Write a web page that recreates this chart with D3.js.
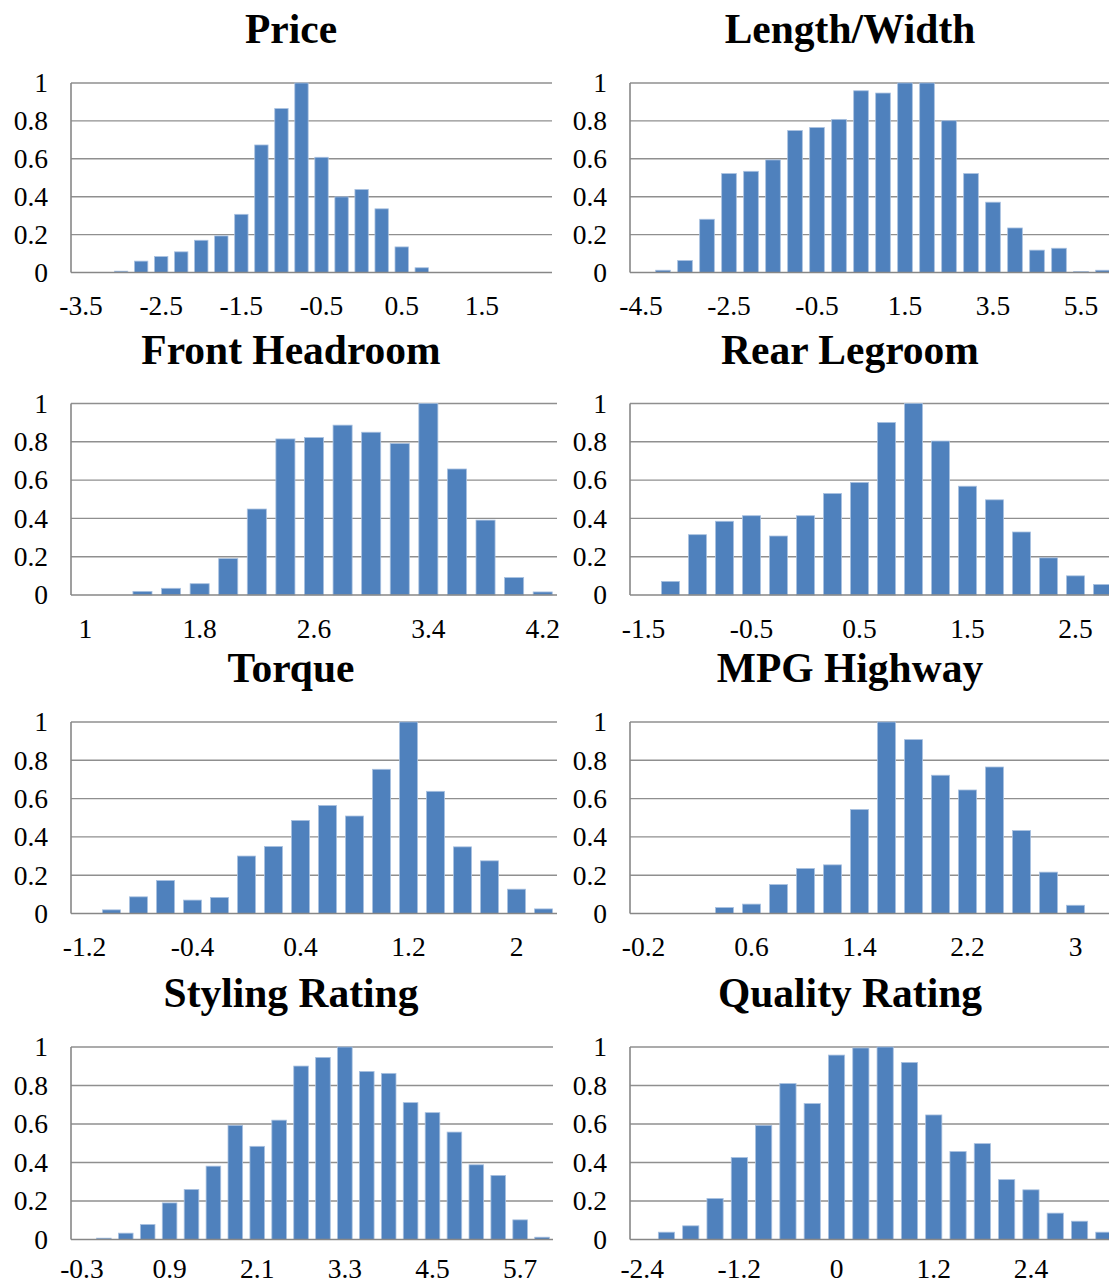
<!DOCTYPE html>
<html>
<head>
<meta charset="utf-8">
<script src="https://cdnjs.cloudflare.com/ajax/libs/d3/7.8.5/d3.min.js"></script>
<style>
  html, body { margin: 0; padding: 0; background: #fff; }
  svg { display: block; }
  text { font-family: "Liberation Serif", "Times New Roman", serif; fill: #000; }
</style>
</head>
<body>
<svg id="chart" width="1109" height="1285"></svg>
<script>
// Normalised histograms of eight vehicle attributes (peak bin = 1)

const titles = ["Price", "Length/Width", "Front Headroom", "Rear Legroom",
                "Torque", "MPG Highway", "Styling Rating", "Quality Rating"];

// Bin labels for each attribute
const priceBins = ["-3.5","-3.25","-3","-2.75","-2.5","-2.25","-2","-1.75","-1.5","-1.25","-1","-0.75",
                   "-0.5","-0.25","0","0.25","0.5","0.75","1","1.25","1.5","1.75","2","2.25"];
const lengthBins = ["-4.5","-4","-3.5","-3","-2.5","-2","-1.5","-1","-0.5","0","0.5","1",
                    "1.5","2","2.5","3","3.5","4","4.5","5","5.5","6"];
const headroomBins = ["1","1.2","1.4","1.6","1.8","2","2.2","2.4","2.6","2.8","3","3.2",
                      "3.4","3.6","3.8","4","4.2"];
const legroomBins = ["-1.5","-1.25","-1","-0.75","-0.5","-0.25","0","0.25","0.5","0.75","1","1.25",
                     "1.5","1.75","2","2.25","2.5","2.75"];
const torqueBins = ["-1.2","-1","-0.8","-0.6","-0.4","-0.2","0","0.2","0.4","0.6","0.8","1",
                    "1.2","1.4","1.6","1.8","2","2.2"];
const mpgBins = ["-0.2","0","0.2","0.4","0.6","0.8","1","1.2","1.4","1.6","1.8","2",
                 "2.2","2.4","2.6","2.8","3","3.2"];
const stylingBins = ["-0.3","0","0.3","0.6","0.9","1.2","1.5","1.8","2.1","2.4","2.7","3",
                     "3.3","3.6","3.9","4.2","4.5","4.8","5.1","5.4","5.7","6"];
const qualityBins = ["-2.4","-2.1","-1.8","-1.5","-1.2","-0.9","-0.6","-0.3","0","0.3","0.6","0.9",
                     "1.2","1.5","1.8","2.1","2.4","2.7","3","3.3"];

// Relative frequency per bin
const priceValues = [0,0,0.007,0.06,0.084,0.109,0.17,0.193,0.307,0.673,0.865,1,
                     0.608,0.399,0.438,0.336,0.135,0.025,0,0,0,0,0,0];
const lengthValues = [0,0.012,0.063,0.281,0.522,0.534,0.594,0.749,0.765,0.808,0.959,0.947,
                      1,1,0.801,0.522,0.371,0.235,0.118,0.128,0.005,0.012];
const headroomValues = [0,0,0.019,0.035,0.059,0.19,0.449,0.815,0.822,0.887,0.85,0.791,
                        1,0.658,0.391,0.091,0.016];
const legroomValues = [0,0.071,0.315,0.385,0.414,0.308,0.414,0.53,0.588,0.901,1,0.804,
                       0.568,0.497,0.329,0.194,0.1,0.055];
const torqueValues = [0,0.019,0.087,0.172,0.07,0.084,0.3,0.35,0.486,0.564,0.509,0.753,
                      1,0.638,0.348,0.275,0.127,0.024];
const mpgValues = [0,0,0,0.031,0.049,0.151,0.235,0.254,0.543,1,0.908,0.722,
                   0.645,0.765,0.433,0.216,0.043,0];
const stylingValues = [0,0.007,0.033,0.078,0.19,0.26,0.381,0.593,0.484,0.62,0.901,0.946,
                       1,0.873,0.863,0.711,0.659,0.558,0.388,0.333,0.102,0.012];
const qualityValues = [0,0.038,0.071,0.213,0.426,0.593,0.81,0.706,0.958,0.995,1,0.92,
                       0.647,0.457,0.498,0.311,0.258,0.137,0.095,0.038];

// Labelled bins on each category axis
const priceTicks = ["-3.5","-2.5","-1.5","-0.5","0.5","1.5"];
const lengthTicks = ["-4.5","-2.5","-0.5","1.5","3.5","5.5"];
const headroomTicks = ["1","1.8","2.6","3.4","4.2"];
const legroomTicks = ["-1.5","-0.5","0.5","1.5","2.5"];
const torqueTicks = ["-1.2","-0.4","0.4","1.2","2"];
const mpgTicks = ["-0.2","0.6","1.4","2.2","3"];
const stylingTicks = ["-0.3","0.9","2.1","3.3","4.5","5.7"];
const qualityTicks = ["-2.4","-1.2","0","1.2","2.4"];

const yTicks = [0, 0.2, 0.4, 0.6, 0.8, 1];

const bins = [priceBins, lengthBins, headroomBins, legroomBins, torqueBins, mpgBins, stylingBins, qualityBins];
const values = [priceValues, lengthValues, headroomValues, legroomValues, torqueValues, mpgValues, stylingValues, qualityValues];
const ticks = [priceTicks, lengthTicks, headroomTicks, legroomTicks, torqueTicks, mpgTicks, stylingTicks, qualityTicks];

// Layout of the 4x2 grid
const colLeft = [71, 630];
const rowTop = [83, 403.5, 722, 1047];
const rowHeight = [189.5, 191.5, 191.5, 192.5];
const xLabelPad = [23, 23, 23, 19];
const plotWidth = [481, 484, 486, 486, 486, 486, 482, 486];
const titleCenter = [291, 850];

const BAR = "#4F81BD";
const GRID = "#8f8f8f";
const AXIS = "#878787";
const FONT = "'Liberation Serif', 'Times New Roman', serif";

const svg = d3.select("#chart");

titles.forEach((title, k) => {
  const col = k % 2, row = Math.floor(k / 2);
  const left = colLeft[col], top = rowTop[row], h = rowHeight[row], w = plotWidth[k];

  const data = bins[k].map((b, i) => ({ bin: b, value: values[k][i] }));

  const x = d3.scaleBand()
    .domain(bins[k])
    .range([0, w])
    .paddingInner(1 / 3)
    .paddingOuter(1 / 6);
  const y = d3.scaleLinear().domain([0, 1]).range([h, 0]);

  const g = svg.append("g").attr("transform", `translate(${left},${top})`);

  // title
  svg.append("text")
    .attr("x", titleCenter[col])
    .attr("y", top - 40)
    .attr("text-anchor", "middle")
    .style("font-size", "41.5px")
    .style("font-weight", "bold")
    .text(title);

  // horizontal gridlines
  g.append("g")
    .selectAll("line")
    .data(yTicks.filter(d => d > 0))
    .join("line")
    .attr("x1", 0).attr("x2", w)
    .attr("y1", d => y(d)).attr("y2", d => y(d))
    .attr("stroke", GRID)
    .attr("stroke-width", 1.4);

  // bars
  g.append("g")
    .selectAll("rect")
    .data(data.filter(d => d.value > 0))
    .join("rect")
    .attr("x", d => x(d.bin))
    .attr("width", x.bandwidth())
    .attr("y", d => y(d.value))
    .attr("height", d => h - y(d.value))
    .attr("fill", BAR)
    .attr("stroke", "#a9c1e0")
    .attr("stroke-width", 0.8);

  // vertical axis line and baseline
  g.append("line")
    .attr("x1", 0).attr("x2", 0).attr("y1", 0).attr("y2", h)
    .attr("stroke", AXIS).attr("stroke-width", 1.6);
  g.append("line")
    .attr("x1", 0).attr("x2", w).attr("y1", h).attr("y2", h)
    .attr("stroke", AXIS).attr("stroke-width", 1.6);

  // y axis labels
  const yAxis = g.append("g")
    .call(d3.axisLeft(y).tickValues(yTicks).tickSize(0).tickPadding(23)
      .tickFormat(d => d === 0 ? "0" : d === 1 ? "1" : d3.format(".1f")(d)));
  yAxis.select(".domain").remove();
  yAxis.selectAll("text")
    .style("font-size", "27.5px")
    .style("font-family", FONT);

  // x axis labels
  const xAxis = g.append("g")
    .attr("transform", `translate(0,${h})`)
    .call(d3.axisBottom(x).tickValues(ticks[k]).tickSize(0).tickPadding(xLabelPad[row]));
  xAxis.select(".domain").remove();
  xAxis.selectAll("text")
    .style("font-size", "27.5px")
    .style("font-family", FONT);
});
</script>
</body>
</html>
